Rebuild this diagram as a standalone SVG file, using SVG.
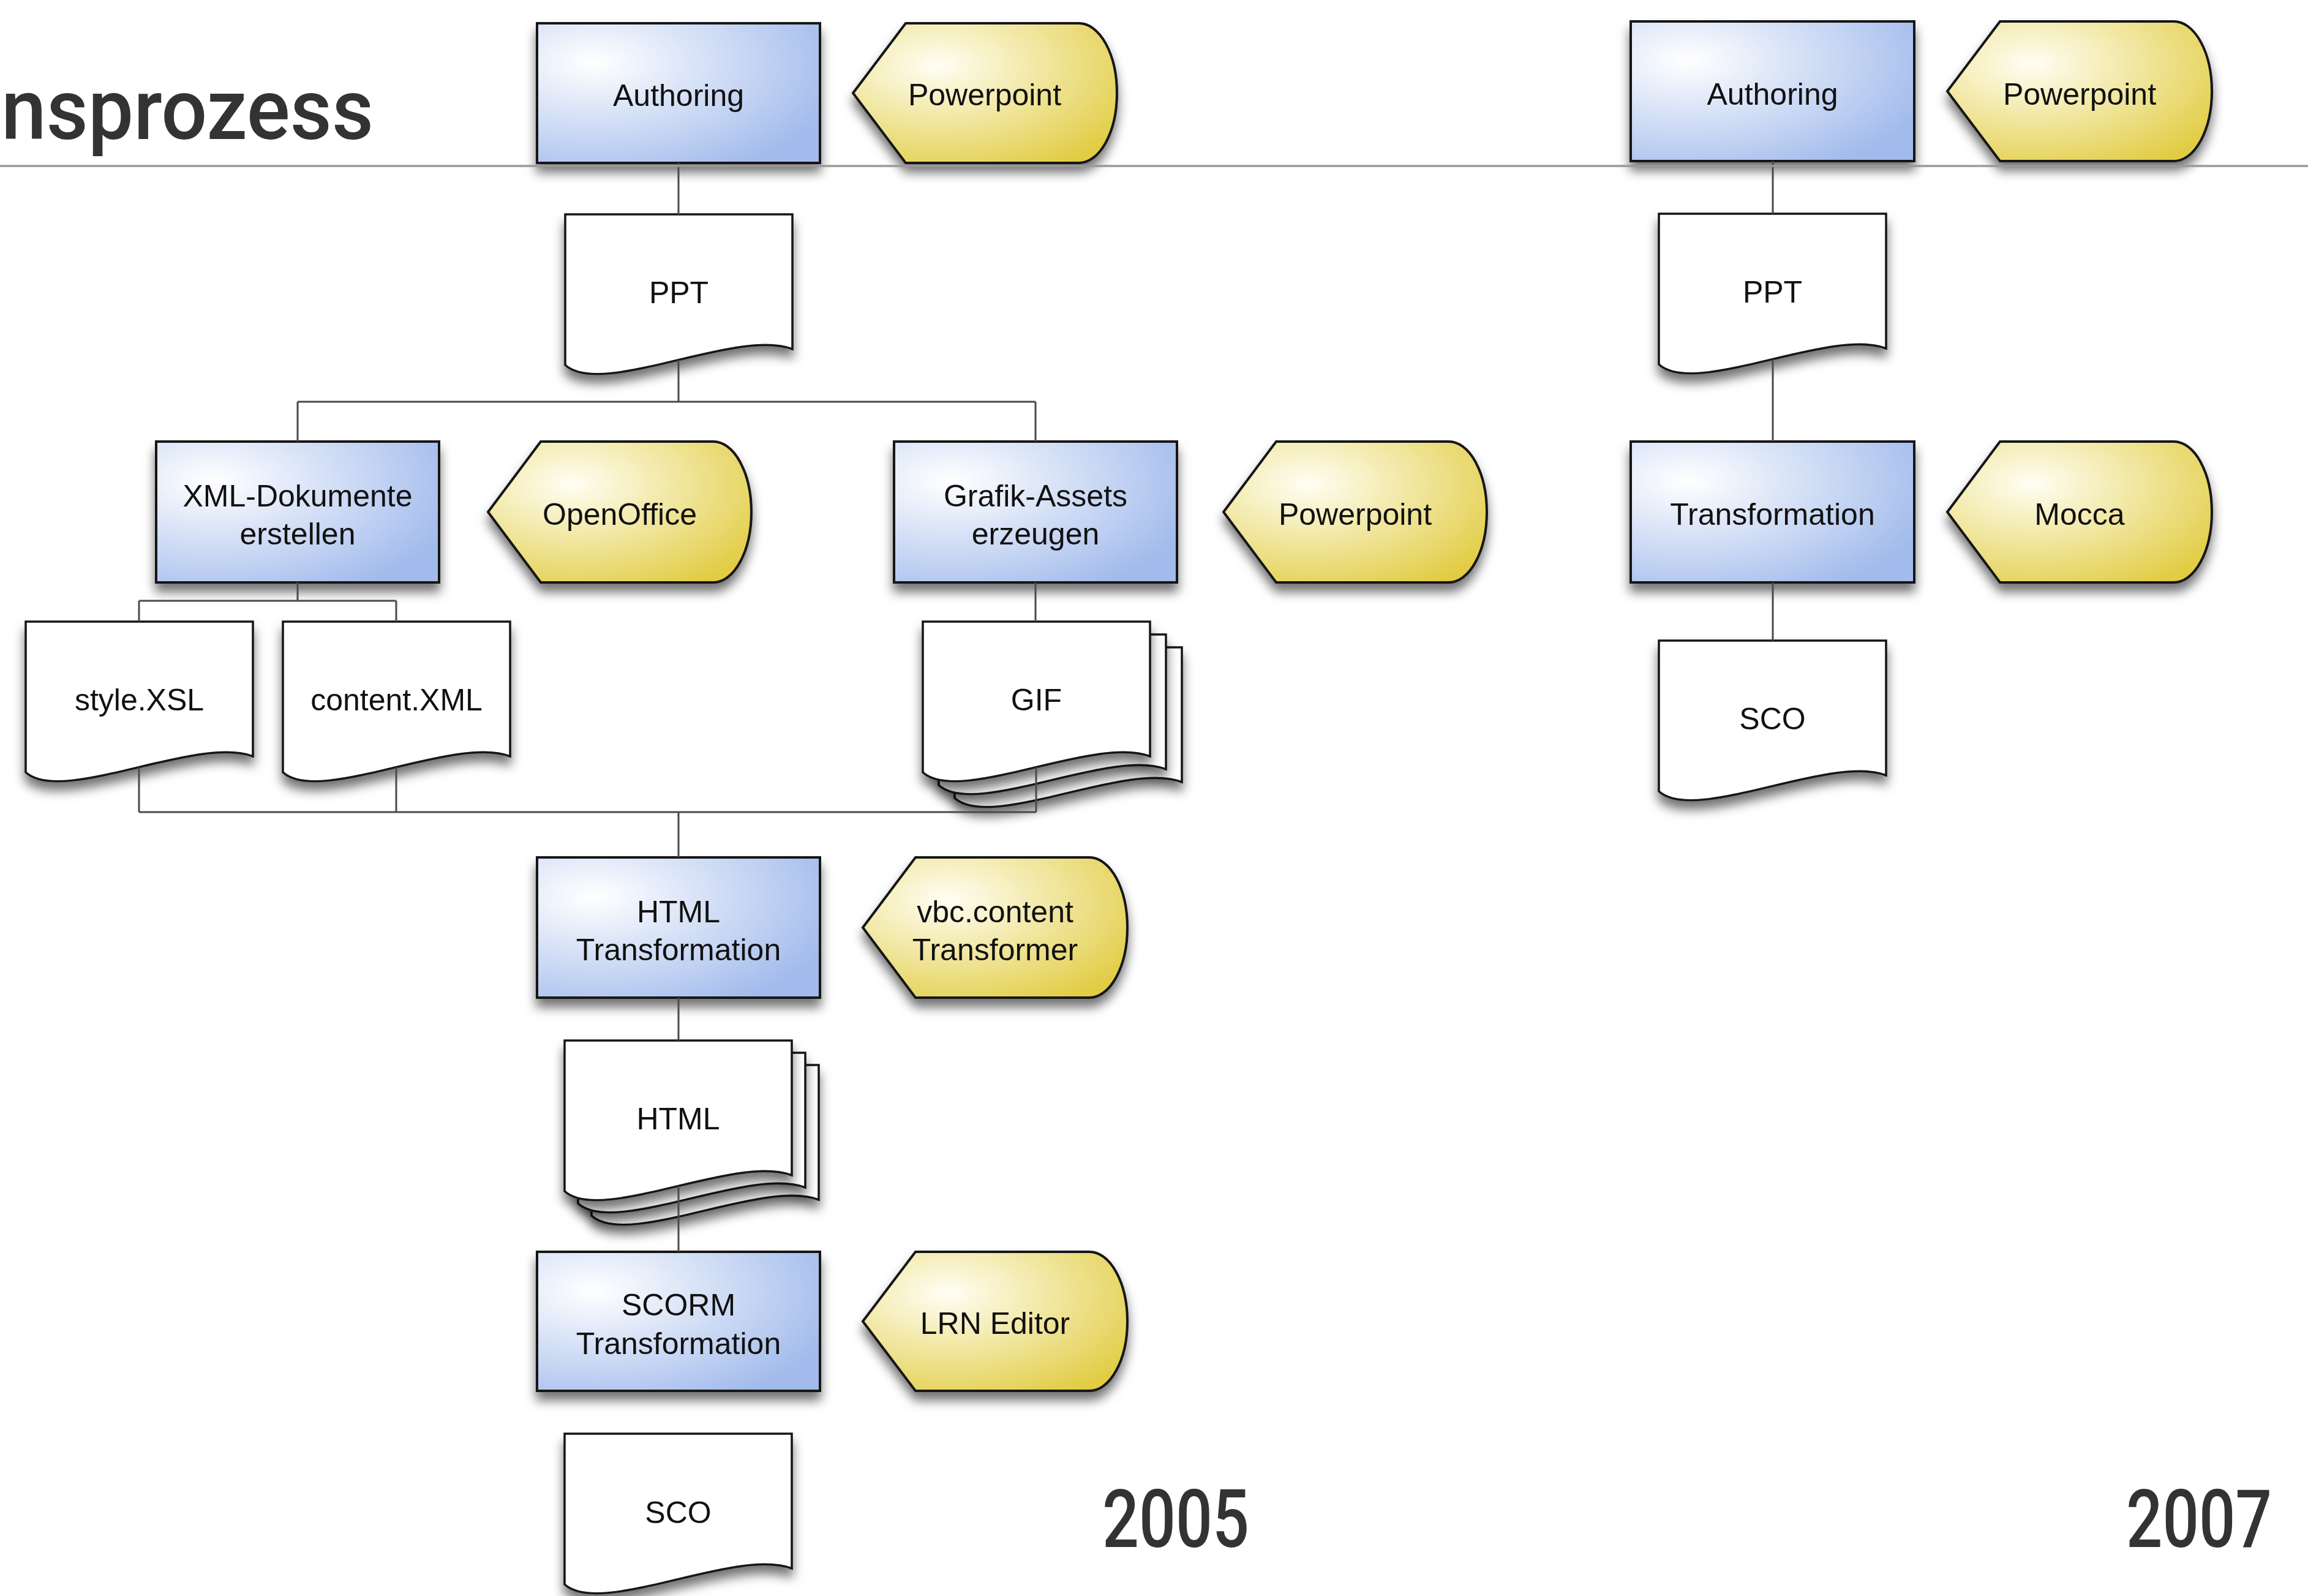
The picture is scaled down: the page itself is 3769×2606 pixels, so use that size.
<svg xmlns="http://www.w3.org/2000/svg" xmlns:xlink="http://www.w3.org/1999/xlink" width="3769" height="2606" viewBox="0 0 3769 2606">
<style>
.proc{fill:url(#gBlue);stroke:#141414;stroke-width:4;filter:url(#sh)}
.tool{fill:url(#gYel);stroke:#141414;stroke-width:4;filter:url(#sh)}
.doc{fill:#ffffff;stroke:#141414;stroke-width:3.5;filter:url(#sh)}
.lbl{font-family:"Liberation Sans",Arial,sans-serif;font-size:50px;fill:#111111;text-anchor:middle}
.conn{stroke:#4a4a4a;stroke-width:3;fill:none}
.big{font-family:Roboto,"DejaVu Sans Condensed",sans-serif;font-weight:500;fill:#333333}
</style>
<defs>
<radialGradient id="gBlue" cx="0.2" cy="0.28" r="0.9" fx="0.2" fy="0.28">
<stop offset="0" stop-color="#ffffff"/>
<stop offset="1" stop-color="#a2bbec"/>
</radialGradient>
<radialGradient id="gYel" cx="0.32" cy="0.3" r="0.85" fx="0.32" fy="0.3">
<stop offset="0" stop-color="#fffef4"/>
<stop offset="1" stop-color="#e1cc42"/>
</radialGradient>
<filter id="sh" x="-20%" y="-20%" width="140%" height="150%">
<feDropShadow dx="0" dy="14" stdDeviation="9" flood-color="#000000" flood-opacity="0.55"/>
</filter>
<path id="docp" d="M0,0 H371 V220 C281,185 60,300 0,246 Z"/>
</defs>
<rect x="0" y="0" width="3769" height="2606" fill="#ffffff"/>

<text class="big" x="2" y="227" font-size="140" textLength="608" lengthAdjust="spacingAndGlyphs" fill="#2e2e2e">nsprozess</text>

<!-- 2005 column -->
<g id="authoring-2005">
<rect class="proc" x="877" y="38" width="462" height="228"/>
<text class="lbl" x="1108" y="173">Authoring</text>
</g>
<g id="powerpoint-2005-a">
<path class="tool" d="M1393,152 L1479,38 L1762,38 A62,114 0 0 1 1762,266 L1479,266 Z"/>
<text class="lbl" x="1608" y="172">Powerpoint</text>
</g>
<g id="ppt-2005">
<use class="doc" xlink:href="#docp" href="#docp" x="923" y="350"/>
<text class="lbl" x="1108.5" y="495">PPT</text>
</g>
<g id="xml-dokumente">
<rect class="proc" x="255" y="721" width="462" height="230"/>
<text class="lbl" x="486" y="827">XML-Dokumente</text>
<text class="lbl" x="486" y="889">erstellen</text>
</g>
<g id="openoffice">
<path class="tool" d="M797,836 L883,721 L1165,721 A62,115 0 0 1 1165,951 L883,951 Z"/>
<text class="lbl" x="1012" y="857">OpenOffice</text>
</g>
<g id="grafik-assets">
<rect class="proc" x="1460" y="721" width="462" height="230"/>
<text class="lbl" x="1691" y="827">Grafik-Assets</text>
<text class="lbl" x="1691" y="889">erzeugen</text>
</g>
<g id="powerpoint-2005-b">
<path class="tool" d="M1998,836 L2084,721 L2366,721 A62,115 0 0 1 2366,951 L2084,951 Z"/>
<text class="lbl" x="2213" y="857">Powerpoint</text>
</g>
<g id="style-xsl">
<use class="doc" xlink:href="#docp" href="#docp" x="42" y="1015"/>
<text class="lbl" x="227.5" y="1160">style.XSL</text>
</g>
<g id="content-xml">
<use class="doc" xlink:href="#docp" href="#docp" x="462" y="1015"/>
<text class="lbl" x="647.5" y="1160">content.XML</text>
</g>
<g id="gif">
<use class="doc" xlink:href="#docp" href="#docp" x="1559" y="1057"/>
<use class="doc" xlink:href="#docp" href="#docp" x="1533" y="1036"/>
<use class="doc" xlink:href="#docp" href="#docp" x="1507" y="1015"/>
<text class="lbl" x="1692.5" y="1160">GIF</text>
</g>
<g id="html-transformation">
<rect class="proc" x="877" y="1400" width="462" height="229"/>
<text class="lbl" x="1108" y="1506">HTML</text>
<text class="lbl" x="1108" y="1568">Transformation</text>
</g>
<g id="vbc-content-transformer">
<path class="tool" d="M1409,1514.5 L1495,1400 L1779,1400 A62,114.5 0 0 1 1779,1629 L1495,1629 Z"/>
<text class="lbl" x="1625" y="1506">vbc.content</text>
<text class="lbl" x="1625" y="1568">Transformer</text>
</g>
<g id="html-doc">
<use class="doc" xlink:href="#docp" href="#docp" x="966" y="1739"/>
<use class="doc" xlink:href="#docp" href="#docp" x="944" y="1719"/>
<use class="doc" xlink:href="#docp" href="#docp" x="922" y="1699"/>
<text class="lbl" x="1107.5" y="1844">HTML</text>
</g>
<g id="scorm-transformation">
<rect class="proc" x="877" y="2044" width="462" height="227"/>
<text class="lbl" x="1108" y="2148">SCORM</text>
<text class="lbl" x="1108" y="2211">Transformation</text>
</g>
<g id="lrn-editor">
<path class="tool" d="M1409,2157.5 L1495,2044 L1779,2044 A62,113.5 0 0 1 1779,2271 L1495,2271 Z"/>
<text class="lbl" x="1625" y="2178">LRN Editor</text>
</g>
<g id="sco-2005">
<use class="doc" xlink:href="#docp" href="#docp" x="922" y="2341"/>
<text class="lbl" x="1107.5" y="2487">SCO</text>
</g>

<!-- 2007 column -->
<g id="authoring-2007">
<rect class="proc" x="2663" y="35" width="463" height="228"/>
<text class="lbl" x="2894.5" y="171">Authoring</text>
</g>
<g id="powerpoint-2007">
<path class="tool" d="M3180,149 L3266,35 L3550,35 A62,114 0 0 1 3550,263 L3266,263 Z"/>
<text class="lbl" x="3396" y="171">Powerpoint</text>
</g>
<g id="ppt-2007">
<use class="doc" xlink:href="#docp" href="#docp" x="2709" y="349"/>
<text class="lbl" x="2894.5" y="494">PPT</text>
</g>
<g id="transformation-2007">
<rect class="proc" x="2663" y="721" width="463" height="230"/>
<text class="lbl" x="2894.5" y="857">Transformation</text>
</g>
<g id="mocca">
<path class="tool" d="M3180,836 L3266,721 L3550,721 A62,115 0 0 1 3550,951 L3266,951 Z"/>
<text class="lbl" x="3396" y="857">Mocca</text>
</g>
<g id="sco-2007">
<use class="doc" xlink:href="#docp" href="#docp" x="2709" y="1046"/>
<text class="lbl" x="2894.5" y="1191">SCO</text>
</g>

<g id="connectors">
<path class="conn" d="M1108,266 V350"/>
<path class="conn" d="M1108,588 V656 M486,656 H1691 M486,656 V721 M1691,656 V721"/>
<path class="conn" d="M486,951 V981 M227,981 H647 M227,981 V1015 M647,981 V1015"/>
<path class="conn" d="M1691,951 V1015"/>
<path class="conn" d="M227,1253 V1326 M647,1253 V1326 M1692,1253 V1326 M227,1326 H1692 M1108,1326 V1400"/>
<path class="conn" d="M1108,1629 V1699"/>
<path class="conn" d="M1108,1937 V2044"/>
<path class="conn" d="M2895,263 V349"/>
<path class="conn" d="M2895,587 V721"/>
<path class="conn" d="M2895,951 V1046"/>
</g>

<line x1="0" y1="271" x2="3769" y2="271" stroke="#9a9a9a" stroke-width="3.5"/>

<text class="big" x="1800" y="2526" font-size="131" textLength="240" lengthAdjust="spacingAndGlyphs">2005</text>
<text class="big" x="3472" y="2526" font-size="131" textLength="238" lengthAdjust="spacingAndGlyphs">2007</text>
</svg>
